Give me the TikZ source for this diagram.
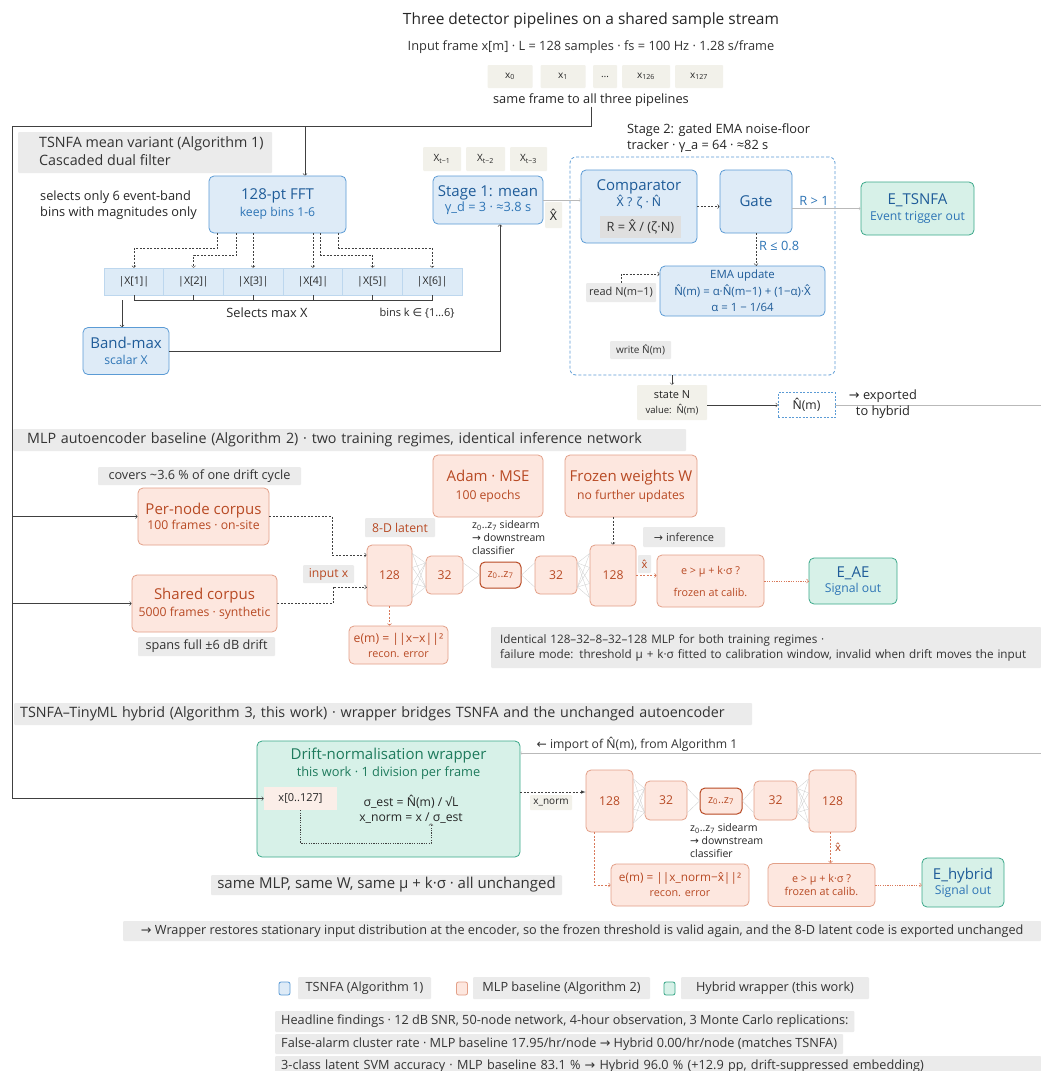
\documentclass[tikz,border=0pt]{standalone}
\usepackage{fontspec}
\setmainfont{Open Sans}
\newfontfamily\symf{DejaVu Sans}
\newfontfamily\notof{Noto Sans}
\usepackage{xcolor}

\definecolor{ink}{HTML}{262626}
\definecolor{linegray}{HTML}{404040}
\definecolor{tsfill}{HTML}{DEEBF7}
\definecolor{tsline}{HTML}{5B9BD5}
\definecolor{tsdark}{HTML}{1F5C99}
\definecolor{tsmid}{HTML}{2E75B6}
\definecolor{binfill}{HTML}{DDEBF7}
\definecolor{binline}{HTML}{BDD7EE}
\definecolor{mlfill}{HTML}{FDE7DF}
\definecolor{mlline}{HTML}{E3A088}
\definecolor{mldark}{HTML}{B84A24}
\definecolor{mlarr}{HTML}{D9795A}
\definecolor{hyfill}{HTML}{D7F1E8}
\definecolor{hyline}{HTML}{3BA889}
\definecolor{hydark}{HTML}{1E7A5C}
\definecolor{bandgray}{HTML}{EBEBEB}
\definecolor{bandtext}{HTML}{333333}
\definecolor{beigefill}{HTML}{F2F1EA}
\definecolor{xinfill}{HTML}{FBEEE8}

\newcommand{\fttl}{\fontsize{15.5}{19}\selectfont}
\newcommand{\fhd}{\fontsize{14.3}{18}\selectfont}
\newcommand{\fbig}{\fontsize{15}{18}\selectfont}
\newcommand{\fbody}{\fontsize{12.8}{16}\selectfont}
\newcommand{\flbl}{\fontsize{12.7}{15}\selectfont}
\newcommand{\fsub}{\fontsize{12.2}{15}\selectfont}
\newcommand{\fsmall}{\fontsize{11}{13}\selectfont}
\newcommand{\fthr}{\fontsize{10.8}{13}\selectfont}
\newcommand{\ftiny}{\fontsize{10}{12}\selectfont}
\newcommand{\rarr}{{\symf →}}
\newcommand{\larr}{{\symf ←}}
\newcommand{\hatof}[1]{{\notof #1̂}}

\tikzset{
  tsbox/.style={draw=tsline, fill=tsfill, rounded corners=5pt, line width=0.8pt, text=tsdark, align=center, font=\fsub, inner sep=1pt},
  mlpbox/.style={draw=mlline, fill=mlfill, rounded corners=5pt, line width=0.8pt, text=mldark, align=center, font=\fsub, inner sep=1pt},
  hybox/.style={draw=hyline, fill=hyfill, rounded corners=5pt, line width=0.8pt, text=tsdark, align=center, font=\fsub, inner sep=1pt},
  layer/.style={mlpbox, font=\fsub},
  band/.style={fill=bandgray, text=bandtext, inner sep=0pt, align=center, rounded corners=1pt},
  beige/.style={fill=beigefill, text=ink, inner sep=0pt, align=center, font=\fsmall, rounded corners=1pt},
  bin/.style={draw=binline, fill=binfill, minimum width=59.67, minimum height=27, font=\fontsize{10.5}{12}\selectfont, text=ink},
  line/.style={draw=linegray, line width=0.6pt},
  dasharr/.style={->, draw=linegray, dash pattern=on 2pt off 1.5pt, line width=0.6pt},
  ordash/.style={->, draw=mlarr, dash pattern=on 2pt off 1.5pt, line width=0.6pt},
  ordot/.style={->, draw=mlarr, dash pattern=on 1.2pt off 1.2pt, line width=0.6pt},
  faint/.style={->, draw=gray!55, line width=0.4pt},
  fan/.style={draw=gray!40, line width=0.3pt},
  lbl/.style={text=ink, inner sep=0pt},
}

\begin{document}
\begin{tikzpicture}[x=1pt, y=-1pt]
\useasboundingbox (0,0) rectangle (1041,1071);
\fill[white] (0,0) rectangle (1041,1071);

\node (title) [lbl, font=\fttl] at (591, 20) {Three detector pipelines on a shared sample stream};
\node (frame) [lbl, font=\fbody, text=bandtext] at (591, 47) {Input frame x[m] · L = 128 samples · fs = 100 Hz · 1.28 s/frame};
\node (s0) [beige, minimum width=45, minimum height=23, font=\ftiny] at (510, 76.5) {x\textsubscript{0}};
\node (s1) [beige, minimum width=45, minimum height=23, font=\ftiny] at (563, 76.5) {x\textsubscript{1}};
\node (sdots) [beige, minimum width=24, minimum height=23, font=\ftiny] at (605, 76.5) {…};
\node (s126) [beige, minimum width=48, minimum height=23, font=\ftiny] at (646, 76.5) {x\textsubscript{126}};
\node (s127) [beige, minimum width=48, minimum height=23, font=\ftiny] at (699, 76.5) {x\textsubscript{127}};
\node (fanout) [lbl, font=\fbody] at (591, 100) {same frame to all three pipelines};

\node (hdrA) [band, anchor=west, minimum width=254, minimum height=41, font=\fhd] at (18, 152.5) {
  \begin{tabular}{@{\hspace{19pt}}l@{\hspace{3pt}}}
    TSNFA mean variant (Algorithm 1) \\
    Cascaded dual filter
  \end{tabular}
};
\node (selects) [lbl, anchor=west, align=left, font=\fbody] at (40, 205) {selects only 6 event-band\\bins with magnitudes only};
\node (fft) [tsbox, minimum width=137, minimum height=57] at (277.5, 204.5) {{\fbig 128-pt FFT}\\[2pt]{\color{tsmid}keep bins 1-6}};
\foreach \i in {1,...,6}
  \node (bin\i) [bin] at ({104 + 59.67*(\i - 0.5)}, 281.5) {|X[\i]|};
\node (selmax) [lbl, font=\fbody] at (267, 313) {Selects max X};
\node (binsk) [lbl, font=\fsmall] at (417, 313) {bins k {\symf ∈} \{1…6\}};
\node (bandmax) [tsbox, minimum width=86, minimum height=47] at (126, 351) {{\fbig Band-max}\\[1pt]{\color{tsmid}scalar X}};

\node (xp1) [beige, minimum width=38, minimum height=24, font=\ftiny] at (442, 159) {X\textsubscript{t−1}};
\node (xp2) [beige, minimum width=39, minimum height=24, font=\ftiny] at (485.5, 159) {X\textsubscript{t−2}};
\node (xp3) [beige, minimum width=37, minimum height=24, font=\ftiny] at (528.5, 159) {X\textsubscript{t−3}};
\node (stage1) [tsbox, minimum width=110, minimum height=48] at (488, 200) {{\fbig Stage 1: mean}\\{\fbody\color{tsmid}γ\_d = 3 · ≈3.8 s}};
\node (xhatA) [beige, minimum width=17, minimum height=26, font=\fsub] at (553.5, 215) {\hatof{X}};

\node (stage2) [lbl, anchor=west, align=left, font=\fbody] at (627, 138) {Stage 2: gated EMA noise-floor\\tracker · γ\_a = 64 · ≈82 s};
\node (track) [draw=tsline, dash pattern=on 3pt off 2pt, rounded corners=6pt, line width=0.8pt, minimum width=265, minimum height=218] at (702.5, 266) {};
\node (cmp) [tsbox, minimum width=116, minimum height=73] at (639, 206.5) {};
\node (cmpT) [lbl, text=tsdark, align=center, font=\fsub] at (639, 194) {{\fbig Comparator}\\\hatof{X} ? ζ · \hatof{N}};
\node (cmpR) [fill=gray!25, text=bandtext, inner sep=0pt, minimum width=81, minimum height=22, font=\fbody] at (640.5, 227) {R = \hatof{X} / (ζ·N)};
\node (gate) [tsbox, minimum width=72, minimum height=63] at (756, 201.5) {{\fbig Gate}};
\node (gtR) [lbl, text=tsmid, font=\fbody] at (814, 201) {R > 1};
\node (etsnfa) [hybox, minimum width=113, minimum height=53] at (917.5, 208.5) {{\fbig E\_TSNFA}\\[1pt]{\color{tsmid}Event trigger out}};
\node (gtL) [lbl, anchor=west, text=tsmid, font=\fbody] at (759, 246) {R ≤ 0.8};
\node (ema) [tsbox, minimum width=165, minimum height=50, font=\fontsize{11.4}{16.5}\selectfont] at (742.5, 291) {EMA update\\\hatof{N}(m) = α·\hatof{N}(m−1) + (1−α)·\hatof{X}\\α = 1 − 1/64};
\node (readN) [band, minimum width=70, minimum height=19, font=\fsmall] at (621, 292.5) {read N(m−1)};
\node (writeN) [band, minimum width=61, minimum height=18, font=\ftiny] at (640.5, 350) {write \hatof{N}(m)};
\node (stateN) [beige, minimum width=70, minimum height=35, font=\fsmall] at (672, 402.5) {state N\\[2pt]{\fontsize{9.5}{11}\selectfont value:\ \ \hatof{N}(m)}};
\node (nhat) [draw=tsline, dash pattern=on 2pt off 1.5pt, fill=white, text=ink, minimum width=57, minimum height=25, font=\fsub] at (806.5, 405) {\hatof{N}(m)};

\node (hdrB) [band, anchor=west, text width=645, inner xsep=14, minimum height=22, align=left, font=\fhd] at (13, 440) {MLP autoencoder baseline (Algorithm 2) · two training regimes, identical inference network};
\node (covers) [band, minimum width=203, minimum height=18, font=\flbl] at (199.5, 476) {covers \textasciitilde3.6 \% of one drift cycle};
\node (pernode) [mlpbox, minimum width=131, minimum height=57] at (203.5, 516.5) {{\fbig Per-node corpus}\\100 frames · on-site};
\node (shared) [mlpbox, minimum width=145, minimum height=57] at (204.5, 603.5) {{\fbig Shared corpus}\\[2pt]5000 frames · synthetic};
\node (spans) [band, minimum width=137, minimum height=19, font=\flbl] at (206.5, 646.5) {spans full ±6 dB drift};
\node (latent) [band, text=mldark, minimum width=70, minimum height=19, font=\fsub] at (400, 527.5) {8-D latent};
\node (inputx) [band, text=mldark, minimum width=51, minimum height=18, font=\fsub] at (328.5, 574) {input x};
\node (m128a) [layer, minimum width=45, minimum height=61] at (389.5, 575.5) {128};
\node (m32a) [layer, minimum width=37, minimum height=38] at (444.5, 575) {32};
\node (mz) [layer, draw=mldark, line width=1pt, minimum width=41, minimum height=26, font=\fsmall] at (500.5, 575) {z\textsubscript{0}..z\textsubscript{7}};
\node (m32b) [layer, minimum width=42, minimum height=38] at (556, 575) {32};
\node (m128b) [layer, minimum width=46, minimum height=61] at (613, 575.5) {128};
\node (adam) [mlpbox, minimum width=110, minimum height=62] at (488, 486) {{\fbig Adam · MSE}\\[3pt]100 epochs};
\node (frozen) [mlpbox, minimum width=132, minimum height=62] at (631, 486) {{\fbig Frozen weights W}\\[3pt]no further updates};
\node (side) [lbl, anchor=west, align=left, font=\fontsize{10.5}{13}\selectfont] at (472, 538) {z\textsubscript{0}..z\textsubscript{7} sidearm\\\rarr{} downstream\\classifier};
\node (infer) [band, minimum width=82, minimum height=20, font=\fsmall] at (684, 537) {\rarr{} inference};
\node (xhatB) [band, text=mldark, minimum width=13, minimum height=18, font=\fsmall] at (644.5, 564) {\hatof{x}};
\node (thr) [mlpbox, minimum width=107, minimum height=52, font=\fthr] at (710.5, 581) {e > μ + k·σ ?\\[9pt]frozen at calib.};
\node (eae) [hybox, minimum width=88, minimum height=46] at (853, 581) {{\fbig E\_AE}\\{\color{tsmid}Signal out}};
\node (recon) [mlpbox, minimum width=99, minimum height=38, font=\fsub] at (398.5, 645) {e(m) = ||x−x||²\\{\fthr recon. error}};
\node (ident) [band, anchor=west, text width=532, inner xsep=9, minimum height=41, align=left, font=\fontsize{11.7}{15}\selectfont] at (491, 647.5) {Identical 128–32–8–32–128 MLP for both training regimes ·\\failure mode: threshold μ + k·σ fitted to calibration window, invalid when drift moves the input};

\node (hdrC) [band, anchor=west, text width=726, inner xsep=6, minimum height=22, align=left, font=\fhd] at (14, 714) {TSNFA–TinyML hybrid (Algorithm 3, this work) · wrapper bridges TSNFA and the unchanged autoencoder};
\node (wrap) [hybox, minimum width=263, minimum height=116] at (388.5, 799) {};
\node (wrapT) [lbl, text=hydark, align=center, font=\fbody] at (388.5, 764) {{\fbig Drift-normalisation wrapper}\\[1pt]this work · 1 division per frame};
\node (xin) [fill=xinfill, text=ink, inner sep=0pt, minimum width=73, minimum height=23, font=\fsmall] at (300.5, 798.5) {x[0..127]};
\node (sig) [lbl, align=center, font=\fsub] at (411, 809) {σ\_est = \hatof{N}(m) / √L\\x\_norm = x / σ\_est};
\node (xnorm) [beige, minimum width=42, minimum height=15, font=\ftiny] at (551, 802.5) {x\_norm};
\node (imp) [lbl, font=\fsub, text=bandtext] at (637, 744) {\larr{} import of \hatof{N}(m), from Algorithm 1};
\node (h128a) [layer, minimum width=47, minimum height=62] at (609.5, 801) {128};
\node (h32a) [layer, minimum width=42, minimum height=39] at (666, 800.5) {32};
\node (hz) [layer, draw=mldark, line width=1pt, minimum width=42, minimum height=26, font=\fsmall] at (721, 801) {z\textsubscript{0}..z\textsubscript{7}};
\node (h32b) [layer, minimum width=43, minimum height=39] at (775.5, 800.5) {32};
\node (h128b) [layer, minimum width=47, minimum height=62] at (832.5, 801) {128};
\node (hside) [lbl, anchor=west, align=left, font=\fontsize{10.5}{13}\selectfont] at (690, 841) {z\textsubscript{0}..z\textsubscript{7} sidearm\\\rarr{} downstream\\classifier};
\node (hxhat) [lbl, text=mldark, font=\fsmall] at (838, 847) {\hatof{x}};
\node (hthr) [mlpbox, minimum width=107, minimum height=43, font=\fthr] at (821.5, 885) {e > μ + k·σ ?\\frozen at calib.};
\node (ehy) [hybox, minimum width=82, minimum height=49] at (963, 882.5) {{\fbig E\_hybrid}\\{\color{tsmid}Signal out}};
\node (hrecon) [mlpbox, minimum width=138, minimum height=42, font=\fontsize{11.8}{15}\selectfont] at (680, 885) {e(m) = ||x\_norm−\hatof{x}||²\\{\fthr recon. error}};
\node (same) [band, minimum width=351, minimum height=20, font=\fbig] at (386.5, 885) {same MLP, same W, same μ + k·σ · all unchanged};
\node (restore) [band, anchor=west, minimum width=918, minimum height=20, font=\flbl] at (123, 931) {\rarr{} Wrapper restores stationary input distribution at the encoder, so the frozen threshold is valid again, and the 8-D latent code is exported unchanged};

\node (lgB) [tsbox, rounded corners=2pt, minimum width=11, minimum height=13] at (284.5, 988.5) {};
\node (lgBt) [band, minimum width=133, minimum height=22, font=\flbl] at (364.5, 988) {TSNFA (Algorithm 1)};
\node (lgO) [mlpbox, rounded corners=2pt, minimum width=11, minimum height=13] at (462, 988.5) {};
\node (lgOt) [band, minimum width=177, minimum height=22, font=\flbl] at (561.5, 988) {MLP baseline (Algorithm 2)};
\node (lgG) [hybox, rounded corners=2pt, minimum width=11, minimum height=13] at (669.5, 988.5) {};
\node (lgGt) [band, minimum width=188, minimum height=22, font=\flbl] at (775, 988) {Hybrid wrapper (this work)};
\node (head1) [band, anchor=west, inner xsep=6, minimum height=21, font=\flbl] at (275, 1021.5) {Headline findings · 12 dB SNR, 50-node network, 4-hour observation, 3 Monte Carlo replications:};
\node (head2) [band, anchor=west, inner xsep=6, minimum height=20, font=\flbl] at (275, 1044) {False-alarm cluster rate · MLP baseline 17.95/hr/node \rarr{} Hybrid 0.00/hr/node (matches TSNFA)};
\node (head3) [band, anchor=west, text width=754, inner xsep=6, minimum height=20, align=left, font=\flbl] at (275, 1066) {3-class latent SVM accuracy · MLP baseline 83.1 \% \rarr{} Hybrid 96.0 \% (+12.9 pp, drift-suppressed embedding)};

\coordinate (busL) at (12, 126);
\coordinate (fftin) at (305, 126);
\draw[line, ->] (fanout.south) -- (fanout.south |- busL) -- (busL) -- (busL |- xin.west) -- (xin.west);
\draw[line, ->] (fftin) -- (fftin |- fft.north);
\draw[line, ->] (busL |- pernode.west) -- (pernode.west);
\draw[line, ->] (busL |- shared.west) -- (shared.west);

\foreach \s/\d/\b in {-60/15/1, -41/22/2, 43/22/5, 61/15/6}
  \draw[dasharr] ([xshift=\s]fft.south) -- ++(0,\d) -| (bin\b.north);
\draw[dasharr] (fft.south -| bin3.north) -- (bin3.north);
\draw[dasharr] (fft.south -| bin4.north) -- (bin4.north);
\draw[line] (bin1.south) -- ++(0,5) -| (bin6.south);
\foreach \i in {2,...,5}
  \draw[line] (bin\i.south) -- ++(0,5);
\coordinate (selL) at (122, 300);
\draw[line, ->] (selL) -- (selL |- bandmax.north);
\draw[line, ->] (bandmax.east) -| ([xshift=12]stage1.south);
\draw[faint] (stage1.east) -- (stage1.east -| cmp.west);
\draw[dasharr] (cmp.east) -- (cmp.east -| gate.west);
\draw[faint] (gate.east |- etsnfa.west) -- (etsnfa.west);
\draw[dasharr] (gate.south) -- (gate.south |- ema.north);
\draw[dasharr] (readN.north) |- ([yshift=17]ema.west);
\draw[line, ->] (stateN.north |- track.south) -- (stateN.north);
\draw[line, ->] (stateN.east |- nhat.west) -- (nhat.west);
\coordinate (expR) at (1046, 405);
\coordinate (impR) at (1046, 753);
\draw[faint] (nhat.east) -- (expR) -- (impR) -- (impR -| wrap.east);
\node (exported) [lbl, align=center, font=\fbody] at (883, 404) {\rarr{} exported\\to hybrid};

\coordinate (pnB) at (332, 555);
\coordinate (shB) at (333, 587);
\draw[dasharr] (pernode.east) -| (pnB) -- (pnB -| m128a.west);
\draw[dasharr] (shared.east) -| (shB) -- (shB -| m128a.west);
\draw[dasharr] (frozen.south -| m128b.north) -- (m128b.north);
\draw[ordash] (m128b.east) -- (m128b.east -| thr.west);
\draw[ordot] (thr.east) -- (eae.west);
\draw[ordash] (m128a.south) -- (m128a.south |- recon.north);

\foreach \p in {m, h} {
  \foreach \a in {-22,-8,8,22}
    \foreach \b in {-12,12} {
      \draw[fan] ([yshift=\a]\p128a.east) -- ([yshift=\b]\p32a.west);
      \draw[fan] ([yshift=\b]\p32b.east) -- ([yshift=\a]\p128b.west);
    }
  \foreach \b in {-12,12} {
    \draw[fan] ([yshift=\b]\p32a.east) -- (\p z.west);
    \draw[fan] (\p z.east) -- ([yshift=\b]\p32b.west);
  }
}

\coordinate (loopR) at (431, 843);
\draw[dasharr, dash pattern=on 1.2pt off 1.2pt] (xin.south) |- (loopR) -- (loopR |- sig.south);
\draw[dasharr, -latex] ([yshift=7]wrap.east) -- ([yshift=7]wrap.east -| h128a.west);
\draw[ordash] ([xshift=-15]h128a.south) |- (hrecon.west);
\draw[ordash] ([xshift=-2]h128b.south) -- ([xshift=-2]h128b.south |- hthr.north);
\draw[ordot] (hthr.east) -- (hthr.east -| ehy.west);
\end{tikzpicture}
\end{document}
